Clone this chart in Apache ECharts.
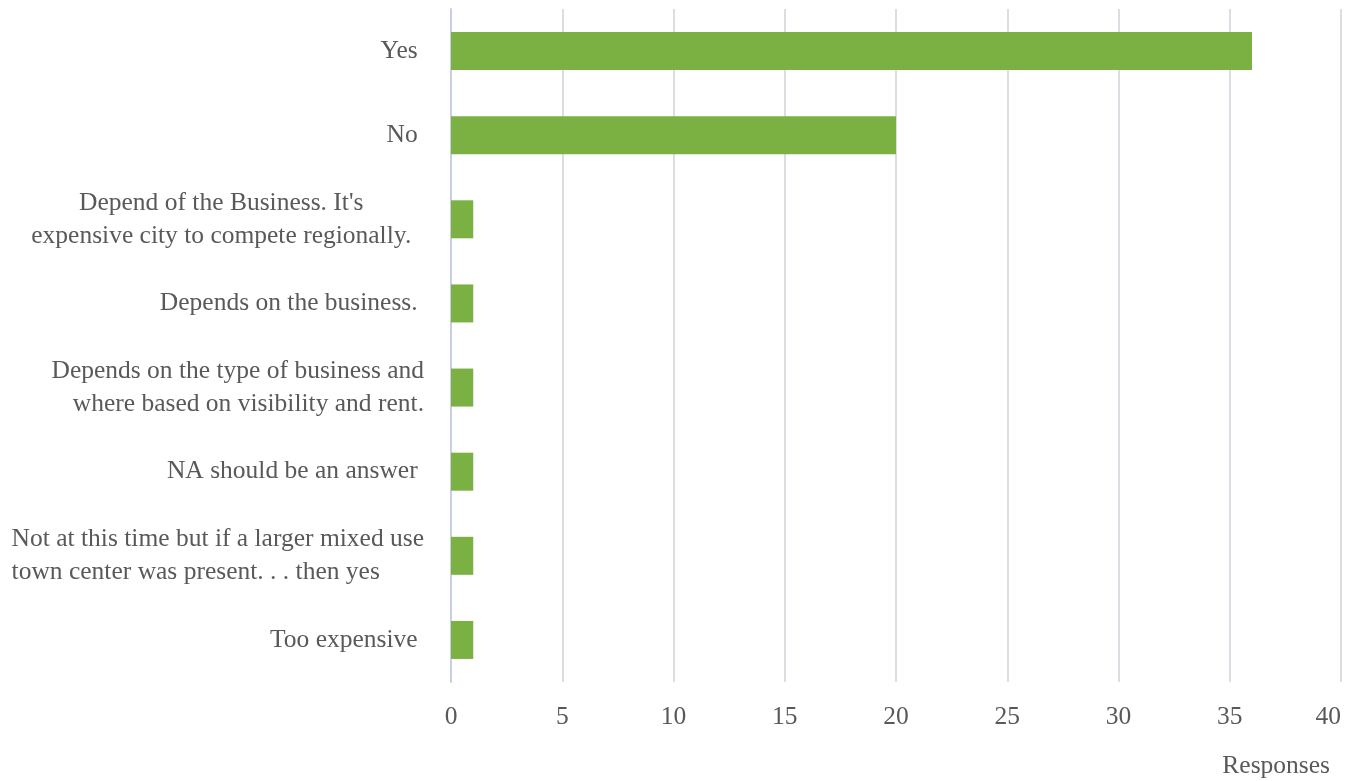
<!DOCTYPE html>
<html>
<head>
<meta charset="utf-8">
<script src="https://cdn.jsdelivr.net/npm/echarts@6/dist/echarts.min.js"></script>
<style>
  html, body { margin: 0; padding: 0; background: #ffffff; }
  #chart { width: 1348px; height: 781px; }
</style>
</head>
<body>
<div id="chart"></div>
<script>
// Survey answers, listed top to bottom
const categories = [
  'Yes',
  'No',
  "Depend of the Business. It's\nexpensive city to compete regionally.",
  'Depends on the business.',
  'Depends on the type of business and\nwhere based on visibility and rent.',
  'NA should be an answer',
  'Not at this time but if a larger mixed use\ntown center was present. . . then yes',
  'Too expensive'
];
const responses = [36, 20, 1, 1, 1, 1, 1, 1];
// how the lines of each wrapped answer line up with each other
const lineAlign = ['r', 'r', 'c', 'r', 'r', 'r', 'l', 'r'];
const xTicks = { min: 0, max: 40, interval: 5 };
const axisTitle = 'Responses';

const FONT = '"Liberation Serif", "Times New Roman", serif';
const TEXT = '#595959';
const SIZE = 25.5;

const lineStyle = (align) => ({
  align: align,
  fontFamily: FONT,
  fontSize: SIZE,
  lineHeight: 33,
  color: TEXT
});

const chart = echarts.init(document.getElementById('chart'));
chart.setOption({
  animation: false,
  backgroundColor: '#ffffff',
  title: {
    text: axisTitle,
    right: 13,
    top: 748,
    textStyle: { fontFamily: FONT, fontSize: SIZE, fontWeight: 'normal', color: TEXT }
  },
  grid: { left: 451, right: 7, top: 9, bottom: 99, outerBoundsMode: 'none', containLabel: false },
  xAxis: {
    type: 'value',
    min: xTicks.min,
    max: xTicks.max,
    interval: xTicks.interval,
    axisLine: { show: false },
    axisTick: { show: false },
    splitLine: { show: true, lineStyle: { color: '#dcdde2', width: 2 } },
    axisLabel: { fontFamily: FONT, fontSize: SIZE, color: TEXT, margin: 22, alignMaxLabel: 'right' }
  },
  yAxis: {
    type: 'category',
    inverse: true,
    data: categories,
    axisTick: { show: false },
    axisLine: { show: true, lineStyle: { color: '#c8cfe2', width: 2 } },
    axisLabel: {
      fontFamily: FONT,
      fontSize: SIZE,
      lineHeight: 33,
      color: TEXT,
      margin: 27,
      align: 'right',
      formatter: (v, i) => {
        const lines = v.split('\n');
        const key = lineAlign[i];
        if (lines.length === 1) return '{r|' + v + ' }';
        const pad = key === 'c' ? '  ' : '';
        return lines.map(s => '{' + key + '|' + s + pad + '}').join('\n');
      },
      rich: { l: lineStyle('left'), c: lineStyle('center'), r: lineStyle('right') }
    }
  },
  series: [{
    type: 'bar',
    data: responses,
    barWidth: 38,
    itemStyle: { color: '#7bb143' }
  }]
});
</script>
</body>
</html>
